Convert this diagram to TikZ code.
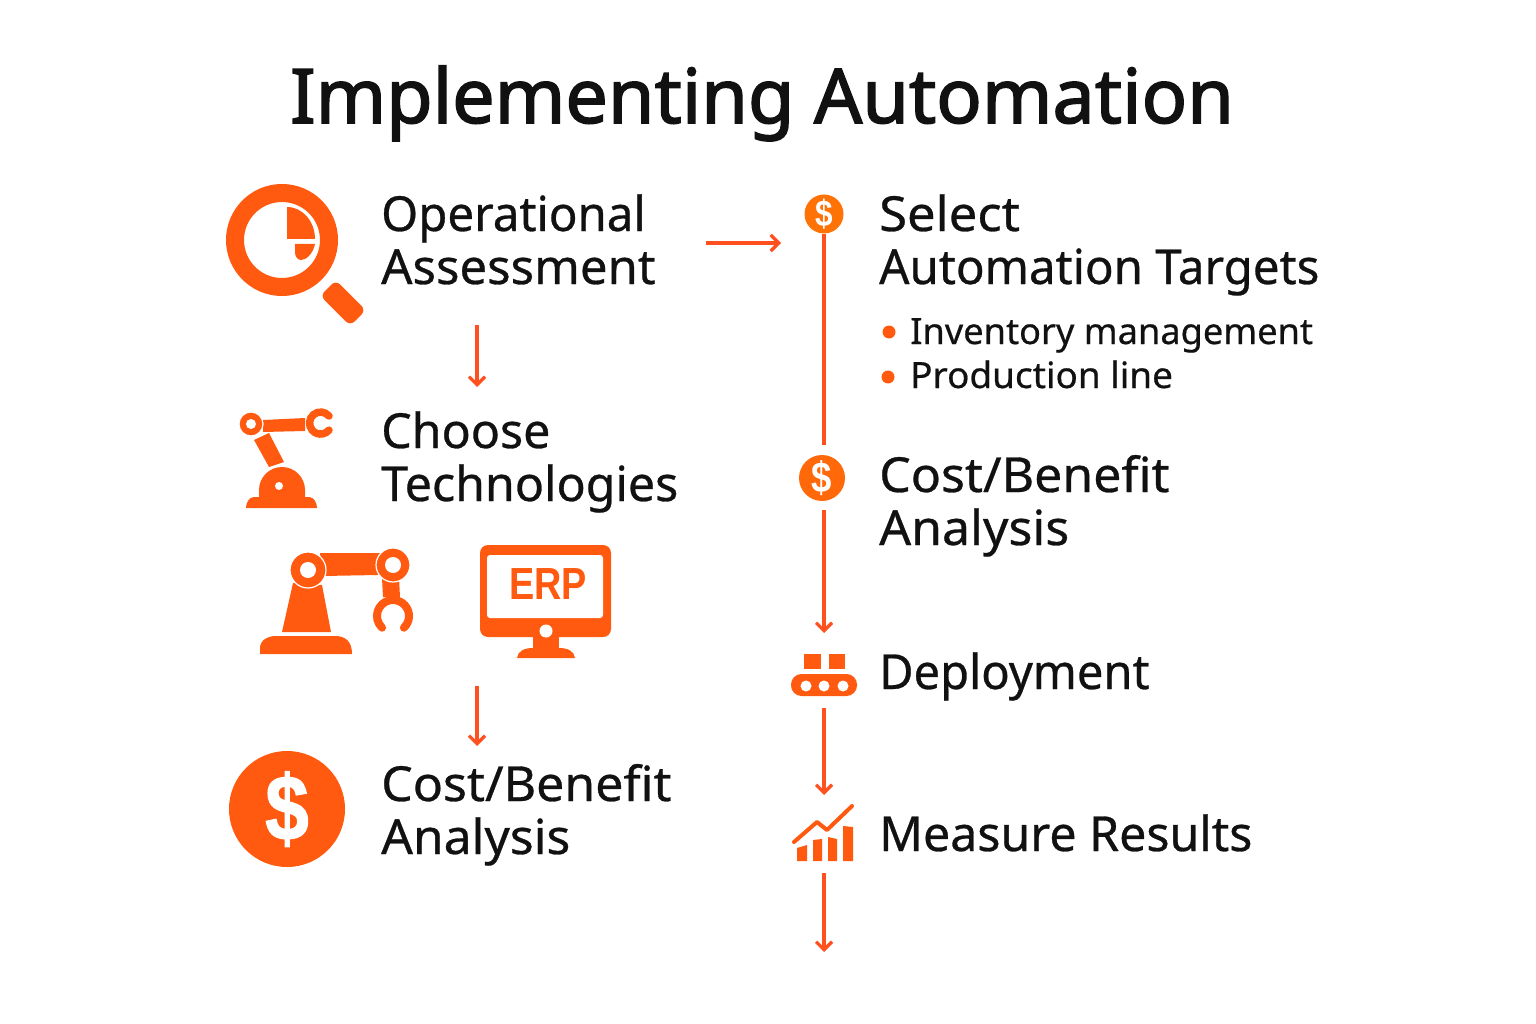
\documentclass[tikz,border=0pt]{standalone}
\usepackage{fontspec}
\setmainfont{Noto Sans}
\newfontfamily\bsans{Liberation Sans}
\usetikzlibrary{arrows.meta}
\definecolor{acc}{HTML}{FF5A0F}
\definecolor{wire}{HTML}{FF5020}
\definecolor{coinA}{HTML}{FF7206}
\definecolor{coinB}{HTML}{FF690A}
\definecolor{ink}{HTML}{111111}
\newcommand{\fsz}[2]{\fontsize{#1}{#2}\selectfont}
\newcommand{\fitw}[2]{\scalebox{#1}[1]{#2}}
\tikzset{
 label/.style={anchor=base west,inner sep=0pt,align=left,text=ink,font=\fsz{48.3}{53}\addfontfeature{FakeBold=0.6}},
 sublabel/.style={anchor=base west,inner sep=0pt,text=ink,font=\fsz{36.2}{40}\addfontfeature{FakeBold=0.5}},
 flow/.style={draw=wire,line width=3.2pt,-{Straight Barb[length=8pt,width=16pt,line width=3.2pt]}},
 rail/.style={draw=wire,line width=3.2pt},
 shapefill/.style={fill=acc,draw=none},
 halo/.style={fill=acc,draw=white,line width=1.2pt},
 hole/.style={fill=white,draw=none},
 coin/.style={circle,inner sep=0pt,text=white},
 dot/.style={circle,fill=acc,inner sep=0pt,minimum size=13pt},
}
\begin{document}
\begin{tikzpicture}[x=1pt,y=-1pt]
\useasboundingbox[fill=white] (0,0) rectangle (1536,1024);
\node[anchor=base,inner sep=0pt,text=ink,font=\fsz{75.5}{80}\addfontfeature{FakeBold=2}] (title) at (762,123) {Implementing Automation};
% magnifier
\draw[acc,line width=18pt] (282,240) circle (47);
\fill[shapefill] (287,239) -- (287,207) arc (-90:0:28 and 32) -- cycle;
\fill[shapefill] (295,244) -- (315,244) .. controls (313,254) and (306,260) .. (301,260) .. controls (297,260) and (295,256) .. (295,252) -- cycle;
\fill[shapefill,rounded corners=6pt] (335.8,280.2) -- (365.8,310.2) -- (350.2,325.8) -- (320.2,295.8) -- cycle;
% small robot
\fill[shapefill] (263,420) -- (305,418) -- (305,431) -- (263,432) -- cycle;
\fill[shapefill] (254,440) -- (269,433) -- (284,462) -- (269,467) -- cycle;
\draw[halo] (251,424) circle (12);
\fill[hole] (251,424) circle (5);
\draw[acc,line width=7.5pt,line cap=round] (329,416) arc (-40:-320:11);
\fill[shapefill] (305,490) arc (0:-180:23) -- (259,497) -- (254,497) .. controls (249,497) and (246,503) .. (246,508) -- (317,508) .. controls (317,503) and (314,497) .. (309,497) -- (305,497) -- cycle;
\fill[hole] (279,486) circle (4);
% large robot
\fill[shapefill] (260,654) -- (260,648) .. controls (260,640) and (268,636) .. (276,636) -- (335,636) .. controls (346,636) and (352,642) .. (352,654) -- cycle;
\fill[shapefill] (293,583) -- (322,585) -- (331,632) -- (282,632) -- cycle;
\fill[shapefill] (320,553) -- (380,553) -- (378,575) -- (323,576) -- cycle;
\fill[shapefill] (382,578) -- (399,578) -- (400,597) -- (383,597) -- cycle;
\draw[halo] (308,570) circle (18);
\fill[hole] (308,570) circle (8);
\draw[halo] (393,565) circle (17);
\fill[hole] (393,565) circle (8);
\draw[acc,line width=8pt,line cap=round] (403.9,627.7) arc (47:-227:16);
% ERP monitor
\fill[shapefill] (533,635) rectangle (559,650);
\fill[shapefill] (517,658) .. controls (518,651) and (524,648) .. (533,648) -- (559,648) .. controls (568,648) and (574,651) .. (575,658) -- cycle;
\fill[shapefill,rounded corners=8pt] (480,545) rectangle (611,637);
\fill[hole,rounded corners=3pt] (487,555) rectangle (603,618);
\fill[hole] (546,631) circle (6.5);
\node[inner sep=0pt,text=acc,font=\bsans\bfseries\fsz{45}{48},xscale=.84] (erp) at (548,584) {ERP};
% big coin
\node[coin,fill=acc,minimum size=116pt] (coinbig) at (287,809) {\bsans\bfseries\fsz{92}{92}\addfontfeature{FakeBold=1.5}\fitw{.85}{\$}};
% labels left
\node[label] (opassess) at (381,284) {\fitw{.982}{Operational}\\\fitw{1.015}{Assessment}};
\node[label] (tech) at (381,501) {Choose\\Technologies};
\node[label] (costleft) at (381,854) {\fitw{1.035}{Cost/Benefit}\\\fitw{1.03}{Analysis}};
% right column
\node[coin,fill=coinA,minimum size=39pt] (coinone) at (824,214) {\bsans\bfseries\fsz{37}{37}\fitw{.85}{\$}};
\node[coin,fill=coinB,minimum size=46pt] (cointwo) at (822,478) {\bsans\bfseries\fsz{43}{43}\fitw{.85}{\$}};
\node[label] (targets) at (879,284) {\fitw{1.05}{Select}\\\fitw{.982}{Automation Targets}};
\node[dot] (bulA) at (889,332) {};
\node[dot] (bulB) at (888,377) {};
\node[sublabel] (inv) at (910,344) {Inventory management};
\node[sublabel] (prod) at (910,388) {\fitw{1.02}{Production line}};
\node[label] (costright) at (879,545) {\fitw{1.035}{Cost/Benefit}\\\fitw{1.035}{Analysis}};
\node[label] (deploy) at (879,689) {\fitw{.975}{Deployment}};
\node[label] (measure) at (879,851) {Measure Results};
% conveyor
\fill[shapefill] (804,654) rectangle (821,669);
\fill[shapefill] (829,654) rectangle (845,669);
\fill[shapefill,rounded corners=10.5pt] (791,674) rectangle (857,696);
\fill[hole] (806,686) circle (5.5);
\fill[hole] (824,686) circle (5.5);
\fill[hole] (843,686) circle (5.5);
% chart
\fill[shapefill] (797,848) -- (807,845) -- (807,861) -- (797,861) -- cycle;
\fill[shapefill] (813,840) -- (822,839) -- (822,861) -- (813,861) -- cycle;
\fill[shapefill] (828,837) -- (837,839) -- (837,861) -- (828,861) -- cycle;
\fill[shapefill] (843,826) -- (853,827) -- (853,861) -- (843,861) -- cycle;
\draw[acc,line width=4pt,line cap=round,line join=round] (794,842) -- (817,822) -- (827,830) -- (852,806);
% connector ends
\coordinate (a1s) at (477,325);\coordinate (a1e) at (477,387);
\coordinate (a2s) at (477,686);\coordinate (a2e) at (477,746);
\coordinate (a3s) at (706,243);\coordinate (a3e) at (781,243);
\coordinate (r1e) at (824,445);
\coordinate (r2s) at (824,510);\coordinate (r2e) at (824,633);
\coordinate (r3s) at (824,708);\coordinate (r3e) at (824,795);
\coordinate (r4s) at (824,873);\coordinate (r4e) at (824,952);
\draw[flow] (a1s) -- (a1e);
\draw[flow] (a2s) -- (a2e);
\draw[flow] (a3s) -- (a3e);
\draw[rail] (coinone.south) -- (r1e);
\draw[flow] (r2s) -- (r2e);
\draw[flow] (r3s) -- (r3e);
\draw[flow] (r4s) -- (r4e);
\end{tikzpicture}
\end{document}
